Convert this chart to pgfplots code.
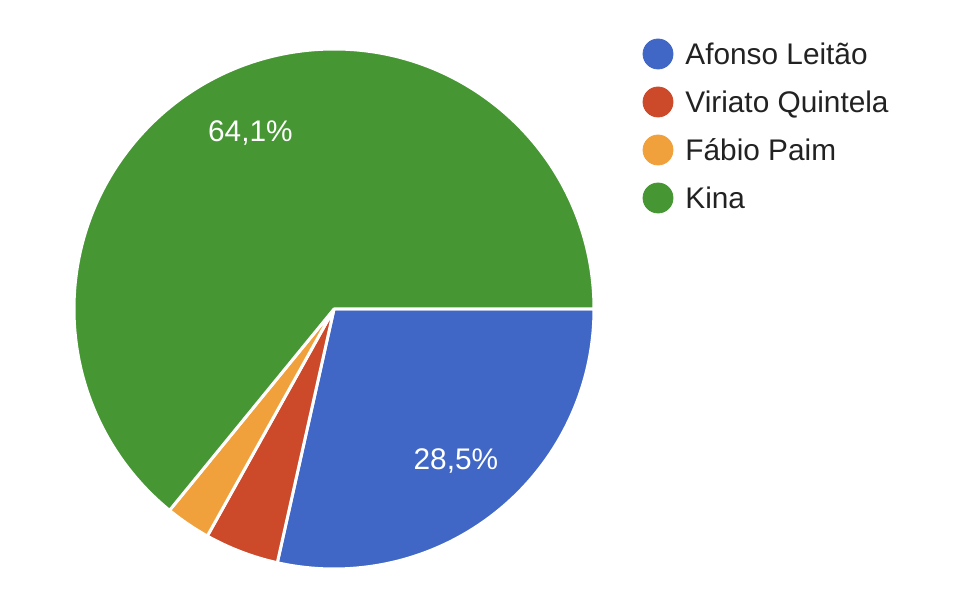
\documentclass[border=0pt]{standalone}
\usepackage{fontspec}
\setmainfont{Liberation Sans}
\usepackage{pgfplots}
\pgfplotsset{compat=1.18}

\definecolor{cAfonso}{RGB}{65,103,198}
\definecolor{cViriato}{RGB}{204,73,41}
\definecolor{cFabio}{RGB}{241,161,59}
\definecolor{cKina}{RGB}{70,150,52}
\definecolor{txt}{RGB}{34,34,34}

\begin{document}
\begin{tikzpicture}
\begin{axis}[
    scale only axis,
    width=486.5pt, height=294.5pt,
    xmin=0, xmax=973, ymin=0, ymax=589,
    y dir=reverse,
    axis lines=none,
    clip=false,
]
\coordinate (ctr) at (axis cs:334,309);
\coordinate (bl) at (axis cs:0,589);
\coordinate (tr) at (axis cs:973,0);
% legend
\addplot[only marks, mark=*, mark size=7.5pt, cAfonso]  coordinates {(658,54)};
\addplot[only marks, mark=*, mark size=7.5pt, cViriato] coordinates {(658,102)};
\addplot[only marks, mark=*, mark size=7.5pt, cFabio]   coordinates {(658,150)};
\addplot[only marks, mark=*, mark size=7.5pt, cKina]    coordinates {(658,198)};
\begin{scope}[every node/.style={anchor=base west, inner sep=0pt, text=txt,
    font=\fontsize{14.9}{17}\selectfont}]
\node at (axis cs:685,65)  {Afonso Leitão};
\node at (axis cs:685,113) {Viriato Quintela};
\node at (axis cs:685,161) {Fábio Paim};
\node at (axis cs:685,208) {Kina};
\end{scope}
\end{axis}
% pie: radius 260 px = 130pt; clockwise from 3 o'clock
\foreach \val/\col/\lab [remember=\angB as \angA (initially 0)] in
    {28.5/cAfonso/{28,5\%}, 4.6/cViriato/{}, 2.8/cFabio/{}, 64.1/cKina/{64,1\%}} {
  \pgfmathsetmacro{\angB}{\angA-3.6*\val}
  \pgfmathsetmacro{\angM}{(\angA+\angB)/2}
  \fill[\col, draw=white, line width=1.5pt, line join=round]
    (ctr) -- ++(\angA:130pt) arc[start angle=\angA, end angle=\angB, radius=130pt] -- cycle;
  \path (ctr) ++(\angM:97.5pt)
    node[white, font=\fontsize{14.9}{17}\selectfont] {\lab};
}
\pgfresetboundingbox
\path (bl) rectangle (tr);
\end{tikzpicture}
\end{document}
